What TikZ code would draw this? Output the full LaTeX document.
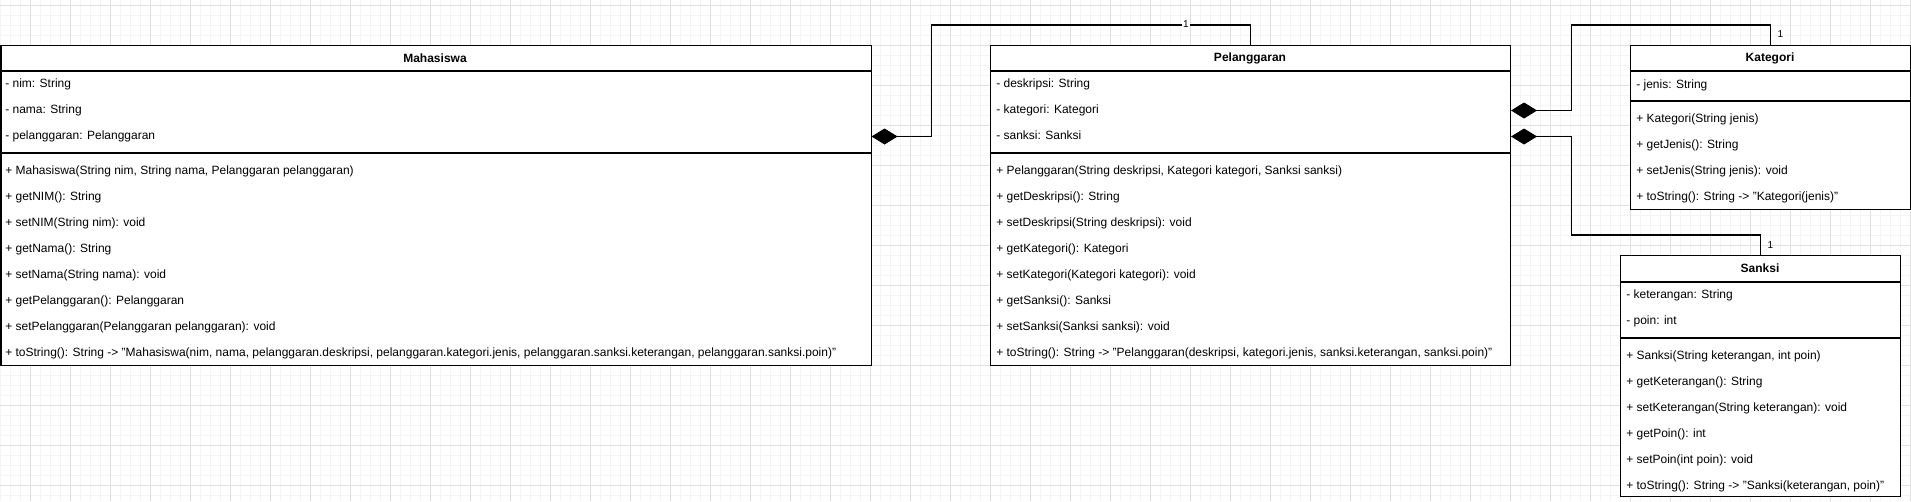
\documentclass[tikz,border=0pt]{standalone}
\usepackage{fontspec}
\setmainfont{Liberation Sans}
\usetikzlibrary{arrows.meta,calc}

\definecolor{gridminor}{HTML}{F4F4F4}
\definecolor{gridmajor}{HTML}{E0E0E0}

\tikzset{
  cls/.style={draw, line width=0.8pt, anchor=north west, inner sep=0pt},
  sep/.style={line width=0.8pt},
  row/.style={anchor=west, inner sep=0pt, font=\fontsize{9}{11}\selectfont, text height=7pt, text depth=2pt},
  head/.style={inner sep=0pt, font=\bfseries\fontsize{9}{11}\selectfont},
  comp/.style={line width=0.8pt, {Diamond[length=19.5pt,width=12pt]}-},
  mult/.style={inner sep=1pt, font=\fontsize{7.5}{9}\selectfont},
}

\begin{document}
\begin{tikzpicture}[x=0.75pt,y=-0.75pt]
\useasboundingbox (0,0) rectangle (1911,501);
%grid
\fill[white] (0,0) rectangle (1911,501);
\foreach \x in {0,10,...,1910} \draw[gridminor, line width=0.75pt] (\x,0) -- (\x,501);
\foreach \y in {5,15,...,495} \draw[gridminor, line width=0.75pt] (0,\y) -- (1911,\y);
\foreach \x in {30,70,...,1910} \draw[gridmajor, line width=0.75pt] (\x,0) -- (\x,501);
\foreach \y in {5,45,...,485} \draw[gridmajor, line width=0.75pt] (0,\y) -- (1911,\y);

%Mahasiswa
\node[cls, fill=white, minimum width=652.5pt, minimum height=240pt] (mhs) at (0.5,45) {};
\node[head] (mhs-h) at (435,58) {Mahasiswa};
\draw[sep] (mhs.west |- 0,71) -- (mhs.east |- 0,71);
\draw[sep] (mhs.west |- 0,153) -- (mhs.east |- 0,153);
\foreach \t [count=\i] in {{- nim: String},{- nama: String},{- pelanggaran: Pelanggaran}}
  \node[row] (mhs-a\i) at (5,58.5+26*\i) {\t};
\foreach \t [count=\i] in {{+ Mahasiswa(String nim, String nama, Pelanggaran pelanggaran)},
    {+ getNIM(): String},{+ setNIM(String nim): void},{+ getNama(): String},
    {+ setNama(String nama): void},{+ getPelanggaran(): Pelanggaran},
    {+ setPelanggaran(Pelanggaran pelanggaran): void},
    {+ toString(): String -> "Mahasiswa(nim, nama, pelanggaran.deskripsi, pelanggaran.kategori.jenis, pelanggaran.sanksi.keterangan, pelanggaran.sanksi.poin)"}}
  \node[row] (mhs-m\i) at (5,145+26*\i) {\t};

%Pelanggaran
\node[cls, fill=white, minimum width=390pt, minimum height=240pt] (pel) at (990,45) {};
\node[head] (pel-h) at (1250,58) {Pelanggaran};
\draw[sep] (pel.west |- 0,71) -- (pel.east |- 0,71);
\draw[sep] (pel.west |- 0,153) -- (pel.east |- 0,153);
\foreach \t [count=\i] in {{- deskripsi: String},{- kategori: Kategori},{- sanksi: Sanksi}}
  \node[row] (pel-a\i) at (996,58.5+26*\i) {\t};
\foreach \t [count=\i] in {{+ Pelanggaran(String deskripsi, Kategori kategori, Sanksi sanksi)},
    {+ getDeskripsi(): String},{+ setDeskripsi(String deskripsi): void},
    {+ getKategori(): Kategori},{+ setKategori(Kategori kategori): void},
    {+ getSanksi(): Sanksi},{+ setSanksi(Sanksi sanksi): void},
    {+ toString(): String -> "Pelanggaran(deskripsi, kategori.jenis, sanksi.keterangan, sanksi.poin)"}}
  \node[row] (pel-m\i) at (996,145+26*\i) {\t};

%Kategori
\node[cls, fill=white, minimum width=210pt, minimum height=123pt] (kat) at (1630,45) {};
\node[head] (kat-h) at (1770,58) {Kategori};
\draw[sep] (kat.west |- 0,71) -- (kat.east |- 0,71);
\draw[sep] (kat.west |- 0,101) -- (kat.east |- 0,101);
\node[row] (kat-a1) at (1636,85.5) {- jenis: String};
\foreach \t [count=\i] in {{+ Kategori(String jenis)},{+ getJenis(): String},
    {+ setJenis(String jenis): void},{+ toString(): String -> "Kategori(jenis)"}}
  \node[row] (kat-m\i) at (1636,93+26*\i) {\t};

%Sanksi
\node[cls, fill=white, minimum width=210pt, minimum height=180.75pt] (san) at (1620,255) {};
\node[head] (san-h) at (1760,268.5) {Sanksi};
\draw[sep] (san.west |- 0,282) -- (san.east |- 0,282);
\draw[sep] (san.west |- 0,338) -- (san.east |- 0,338);
\foreach \t [count=\i] in {{- keterangan: String},{- poin: int}}
  \node[row] (san-a\i) at (1626,269+26*\i) {\t};
\foreach \t [count=\i] in {{+ Sanksi(String keterangan, int poin)},{+ getKeterangan(): String},
    {+ setKeterangan(String keterangan): void},{+ getPoin(): int},
    {+ setPoin(int poin): void},{+ toString(): String -> "Sanksi(keterangan, poin)"}}
  \node[row] (san-m\i) at (1626,330+26*\i) {\t};

%composition links
\draw[comp] (mhs.east |- mhs-a3) -- ++(60,0) |- ($(pel.north)+(0,-20)$) -- (pel.north);
\draw[comp] (pel.east |- pel-a2) -- ++(60,0) |- ($(kat.north)+(0,-20)$) -- (kat.north);
\draw[comp] (pel.east |- pel-a3) -- ++(60,0) |- ($(san.north)+(0,-20)$) -- (san.north);

%multiplicities
\node[mult, fill=white] (m-pel) at (1186,24) {1};
\node[mult, anchor=west] (m-kat) at (1776,34) {1};
\node[mult, anchor=west] (m-san) at (1766,245) {1};
\end{tikzpicture}
\end{document}
